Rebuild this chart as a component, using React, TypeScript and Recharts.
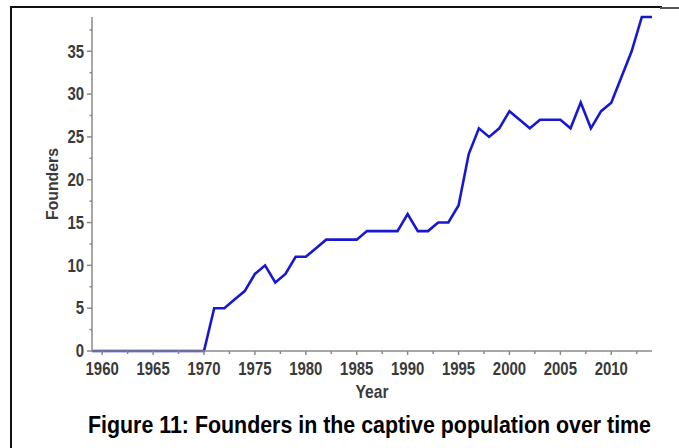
import React from "react";
import { LineChart, Line, XAxis, YAxis } from "recharts";

const years = [
  1959, 1960, 1961, 1962, 1963, 1964, 1965, 1966, 1967, 1968, 1969, 1970,
  1971, 1972, 1973, 1974, 1975, 1976, 1977, 1978, 1979, 1980, 1981, 1982,
  1983, 1984, 1985, 1986, 1987, 1988, 1989, 1990, 1991, 1992, 1993, 1994,
  1995, 1996, 1997, 1998, 1999, 2000, 2001, 2002, 2003, 2004, 2005, 2006,
  2007, 2008, 2009, 2010, 2011, 2012, 2013, 2014,
];
const founders = [
  0, 0, 0, 0, 0, 0, 0, 0, 0, 0, 0, 0,
  5, 5, 6, 7, 9, 10, 8, 9, 11, 11, 12, 13,
  13, 13, 13, 14, 14, 14, 14, 16, 14, 14, 15, 15,
  17, 23, 26, 25, 26, 28, 27, 26, 27, 27, 27, 26,
  29, 26, 28, 29, 32, 35, 39, 39,
];
const xTicks = [
  1960, 1962.5, 1965, 1967.5, 1970, 1972.5, 1975, 1977.5, 1980, 1982.5, 1985,
  1987.5, 1990, 1992.5, 1995, 1997.5, 2000, 2002.5, 2005, 2007.5, 2010, 2012.5,
];
const yTicks = [0, 2.5, 5, 7.5, 10, 12.5, 15, 17.5, 20, 22.5, 25, 27.5, 30, 32.5, 35, 37.5];

const data = years.map((year, i) => ({ year, founders: founders[i] }));

const labelFont = "'Liberation Sans', Arial, sans-serif";
const labelColor = "#3a3a3a";
const axisColor = "#8a8a8a";

// tick labels: narrow bold digits, drawn stretched vertically like the scan
const XTick = (props: any) => {
  const { x, y, payload } = props;
  const v = payload.value;
  const major = v % 5 === 0;
  const s = String(v);
  return (
    <g>
      <line x1={x} x2={x} y1={y} y2={y + (major ? 4 : 3)} stroke={axisColor} strokeWidth={1.5} />
      {major && (
        <text
          x={x}
          y={(y + 24.5) / 1.2}
          transform="scale(1,1.2)"
          textAnchor="middle"
          fontFamily={labelFont}
          fontWeight="bold"
          fontSize={15}
          fill={labelColor}
          textLength={s.length * 8.3}
          lengthAdjust="spacingAndGlyphs"
        >
          {s}
        </text>
      )}
    </g>
  );
};

const YTick = (props: any) => {
  const { x, y, payload } = props;
  const v = payload.value;
  const major = v % 5 === 0;
  const s = String(v);
  return (
    <g>
      <line x1={x} x2={x - (major ? 5 : 2.5)} y1={y} y2={y} stroke={axisColor} strokeWidth={1.5} />
      {major && (
        <text
          x={x - 8}
          y={(y + 6.3) / 1.2}
          transform="scale(1,1.2)"
          textAnchor="end"
          fontFamily={labelFont}
          fontWeight="bold"
          fontSize={15}
          fill={labelColor}
          textLength={s.length * 8.3}
          lengthAdjust="spacingAndGlyphs"
        >
          {s}
        </text>
      )}
    </g>
  );
};

const App: React.FC = () => {
  return (
    <div style={{ position: "absolute", left: 0, top: 0, width: 679, height: 448, background: "#fff" }}>
      <div
        style={{
          position: "absolute",
          left: 10,
          top: 6,
          width: 650,
          height: 442,
          borderTop: "2px solid #111",
          borderLeft: "2px solid #111",
        }}
      />
      <div style={{ position: "absolute", left: 660, top: 7, width: 19, height: 2, background: "#555" }} />
      <div style={{ position: "absolute", left: 0, top: 0 }}>
        <LineChart
          width={679}
          height={448}
          data={data}
          margin={{ top: 17, right: 27, left: 42, bottom: 47 }}
        >
          <XAxis
            dataKey="year"
            type="number"
            domain={[1959, 2014]}
            ticks={xTicks}
            interval={0}
            height={50}
            tickSize={0}
            tickMargin={0}
            tickLine={false}
            tick={<XTick />}
            axisLine={{ stroke: axisColor, strokeWidth: 1.5 }}
            label={{
              value: "Year",
              position: "insideBottom",
              content: ({ viewBox }: any) => (
                <text
                  x={viewBox.x + viewBox.width / 2}
                  y={398.5 / 1.15}
                  transform="scale(1,1.15)"
                  textAnchor="middle"
                  fontFamily={labelFont}
                  fontWeight="bold"
                  fontSize={15.5}
                  fill={labelColor}
                  textLength={33}
                  lengthAdjust="spacingAndGlyphs"
                >
                  Year
                </text>
              ),
            }}
          />
          <YAxis
            type="number"
            domain={[0, 39]}
            ticks={yTicks}
            interval={0}
            width={50}
            tickSize={0}
            tickMargin={0}
            tickLine={false}
            tick={<YTick />}
            axisLine={{ stroke: axisColor, strokeWidth: 1.5 }}
            label={{
              value: "Founders",
              position: "insideLeft",
              content: () => (
                <text
                  x={58}
                  y={184}
                  transform="rotate(-90 58 184)"
                  textAnchor="middle"
                  fontFamily={labelFont}
                  fontWeight="bold"
                  fontSize={16.5}
                  fill={labelColor}
                  textLength={72}
                  lengthAdjust="spacingAndGlyphs"
                >
                  Founders
                </text>
              ),
            }}
          />
          <Line
            type="linear"
            dataKey="founders"
            stroke="#1818d0"
            strokeWidth={2.6}
            dot={false}
            isAnimationActive={false}
          />
        </LineChart>
      </div>
      <svg style={{ position: "absolute", left: 0, top: 0 }} width={679} height={448}>
        <text
          x={88}
          y={433 / 1.12}
          transform="scale(1,1.12)"
          fontFamily={labelFont}
          fontWeight="bold"
          fontSize={21.3}
          fill="#000"
          textLength={563}
          lengthAdjust="spacingAndGlyphs"
        >
          Figure 11: Founders in the captive population over time
        </text>
      </svg>
    </div>
  );
};

export default App;
